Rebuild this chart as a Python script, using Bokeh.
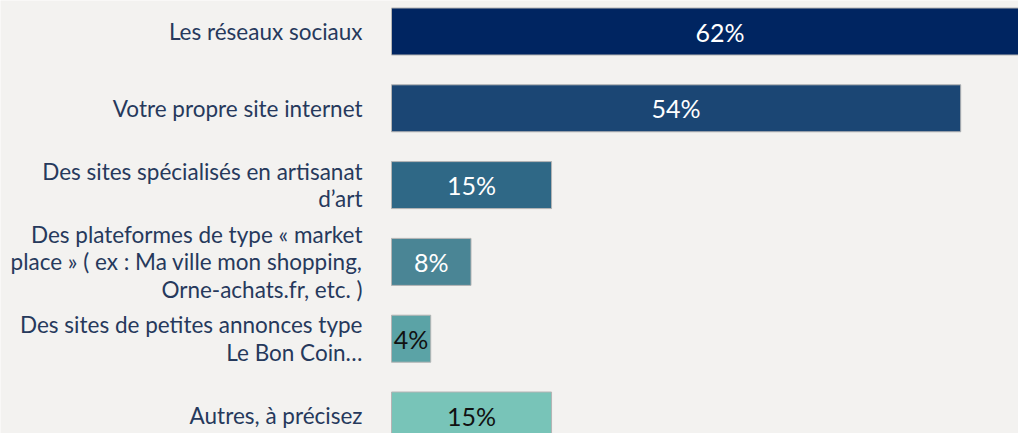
from bokeh.plotting import figure
from bokeh.models import ColumnDataSource, Range1d
from bokeh.core.properties import value
from bokeh.embed import file_html
from bokeh.resources import INLINE

# ---- data ----
categories = [
    "Les réseaux sociaux",
    "Votre propre site internet",
    "Des sites spécialisés en artisanat\nd\u2019art",
    "Des plateformes de type « market\nplace » ( ex : Ma ville mon shopping,\nOrne-achats.fr, etc. )",
    "Des sites de petites annonces type\nLe Bon Coin\u2026",
    "Autres, à précisez",
]
values = [62.0, 53.7, 15.1, 7.5, 3.7, 15.1]
value_labels = ["62%", "54%", "15%", "8%", "4%", "15%"]
bar_colors = ["#002561", "#1b4674", "#2f6886", "#4a8595", "#5ba3a6", "#78c4b8"]
label_colors = ["#ffffff", "#ffffff", "#ffffff", "#ffffff", "#111111", "#111111"]

# ---- layout constants ----
W, H = 1018, 433
px_per_pct = 10.6
x0_px = 391          # screen position of 0% inside the frame
band_px = 76.8
first_center_px = 31.0

ys = list(range(len(categories)))
src = ColumnDataSource(dict(
    y=ys, v=values, mid=[v / 2 for v in values], cat=categories,
    lab=value_labels, color=bar_colors, lcolor=label_colors,
))

x_start = -x0_px / px_per_pct
x_end = (W - x0_px) / px_per_pct
y_top = -first_center_px / band_px
y_bottom = y_top + H / band_px

p = figure(width=W, height=H, output_backend="svg", toolbar_location=None,
           x_range=Range1d(x_start, x_end), y_range=Range1d(y_bottom, y_top),
           min_border=0, outline_line_color=None)
p.background_fill_color = "#f3f2f0"
p.border_fill_color = "#f3f2f0"
p.axis.visible = False
p.grid.visible = False

p.hbar(y="y", left=0, right="v", height=47 / band_px, source=src,
       fill_color="color", line_color="#b4b4b4", line_width=1)

p.text(x="mid", y="y", text="lab", source=src, text_align="center",
       text_baseline="middle", text_color="lcolor",
       text_font=value("Lato"), text_font_size="25px")

label_x = -29 / px_per_pct
p.text(x=label_x, y="y", text="cat", source=src, text_align="right",
       text_baseline="middle", text_color="#26395c",
       text_font=value("Lato"), text_font_size="22.5px", text_line_height=1.02)

open("out.html", "w").write(file_html(p, INLINE))
